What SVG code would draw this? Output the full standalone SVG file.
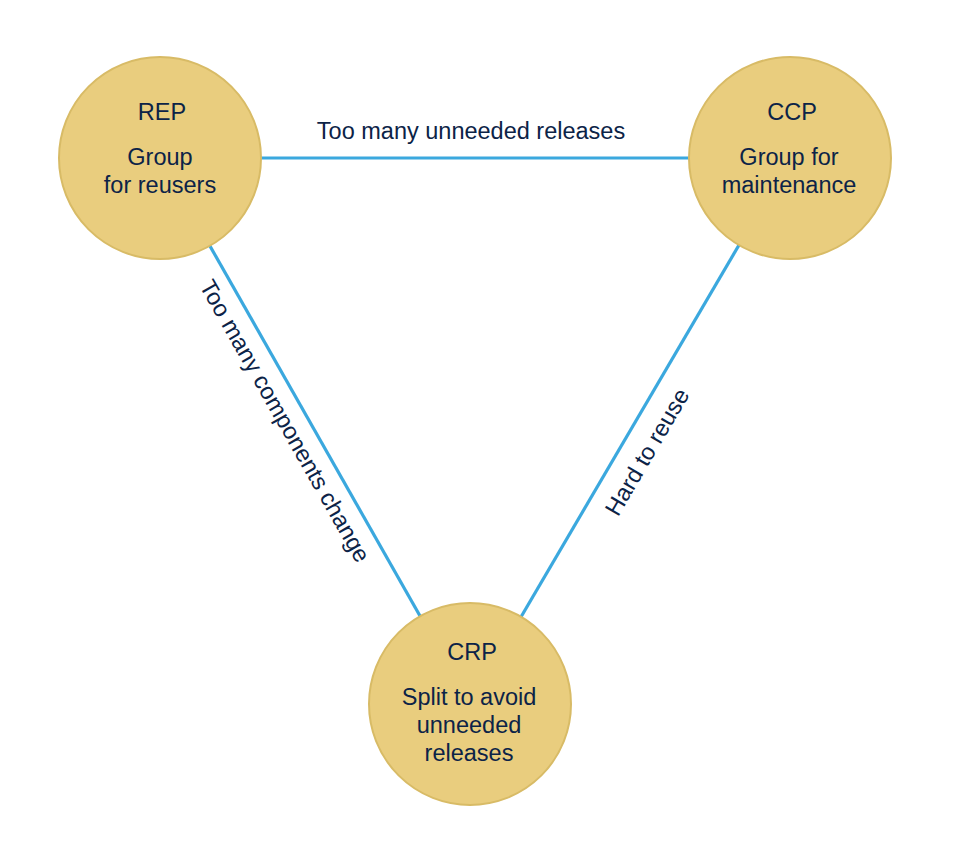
<svg xmlns="http://www.w3.org/2000/svg" width="960" height="842" viewBox="0 0 960 842">
<style>
.bg{fill:#ffffff}
.node{fill:#e9cd7e;stroke:#d8bb66;stroke-width:2}
.t{font-family:"Liberation Sans",Arial,Helvetica,sans-serif;font-size:23.5px;fill:#0c2347;text-anchor:middle}
.edge{stroke:#3ba8de;stroke-width:3.2;fill:none}
</style>
<rect class="bg" x="0" y="0" width="960" height="842"/>
<g id="connectors">
<line class="edge" x1="160" y1="158" x2="790" y2="158"/>
<line class="edge" x1="160" y1="158" x2="470" y2="704"/>
<line class="edge" x1="790" y1="158" x2="470" y2="704"/>
<text class="t" x="471" y="139">Too many unneeded releases</text>
<text class="t" transform="translate(278,425) rotate(60.4)" x="0" y="0">Too many components change</text>
<text class="t" transform="translate(654,456) rotate(-59.6)" x="0" y="0">Hard to reuse</text>
</g>
<g id="REP">
<circle class="node" cx="160" cy="158" r="101"/>
<text class="t" x="162" y="120">REP</text>
<text class="t" x="160" y="165">Group</text>
<text class="t" x="160" y="193">for reusers</text>
</g>
<g id="CCP">
<circle class="node" cx="790" cy="158" r="101"/>
<text class="t" x="792" y="120">CCP</text>
<text class="t" x="789" y="165">Group for</text>
<text class="t" x="789" y="193">maintenance</text>
</g>
<g id="CRP">
<circle class="node" cx="470" cy="704" r="101"/>
<text class="t" x="472" y="660">CRP</text>
<text class="t" x="469" y="705">Split to avoid</text>
<text class="t" x="469" y="733">unneeded</text>
<text class="t" x="469" y="761">releases</text>
</g>
</svg>
